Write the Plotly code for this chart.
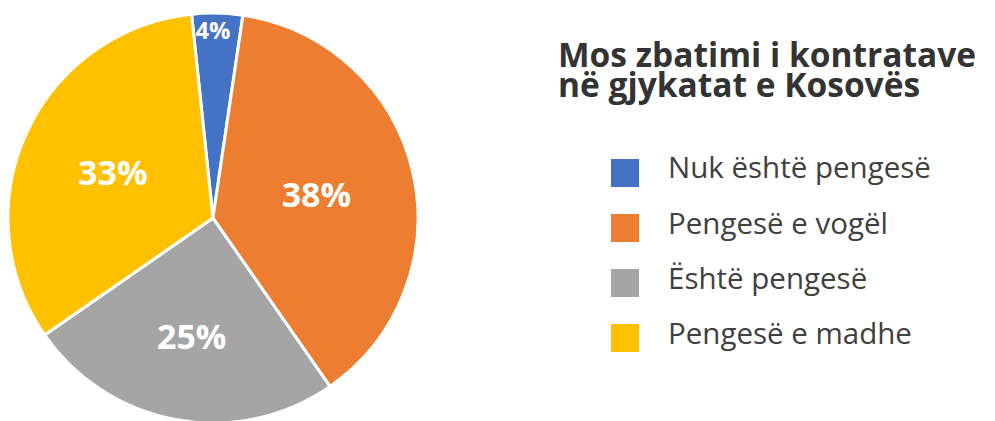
import plotly.graph_objects as go

labels = ["Nuk është pengesë", "Pengesë e vogël", "Është pengesë", "Pengesë e madhe"]
values = [4, 38, 25, 33]
colors = ["#4472C4", "#ED7D31", "#A5A5A5", "#FFC000"]
title_lines = ["Mos zbatimi i kontratave", "në gjykatat e Kosovës"]

W, H = 995, 421

fig = go.Figure(go.Pie(
    labels=labels,
    values=values,
    sort=False,
    direction="clockwise",
    rotation=-6,
    marker=dict(colors=colors, line=dict(color="white", width=3)),
    textinfo="percent",
    texttemplate="%{percent:.0%}",
    textposition="inside",
    insidetextorientation="horizontal",
    textfont=dict(family="Open Sans", size=34, color="white", weight="bold"),
    domain=dict(x=[0, 0.412], y=[0.012, 0.99]),
    showlegend=False,
    hoverinfo="label+percent",
))

annotations = []
shapes = []
# title
for i, line in enumerate(title_lines):
    annotations.append(dict(
        text=f"<b>{line}</b>", xref="paper", yref="paper",
        x=548 / W, y=1 - (46 + i * 30) / H, xanchor="left", yanchor="middle",
        showarrow=False,
        font=dict(family="Open Sans", size=33.5, color="#333333", weight="bold"),
    ))
# legend
for i, (lab, col) in enumerate(zip(labels, colors)):
    cy = 165 + i * 55
    shapes.append(dict(
        type="rect", xref="paper", yref="paper",
        x0=603 / W, x1=631 / W, y0=1 - (cy - 14) / H, y1=1 - (cy + 14) / H,
        fillcolor=col, line=dict(width=0),
    ))
    annotations.append(dict(
        text=lab, xref="paper", yref="paper",
        x=658 / W, y=1 - (cy - 6) / H, xanchor="left", yanchor="middle",
        showarrow=False, font=dict(family="Open Sans", size=29.5, color="#404040"),
    ))

fig.update_layout(
    width=W, height=H,
    margin=dict(l=0, r=0, t=0, b=0),
    paper_bgcolor="white", plot_bgcolor="white",
    annotations=annotations, shapes=shapes,
)

fig.write_html("out.html")
